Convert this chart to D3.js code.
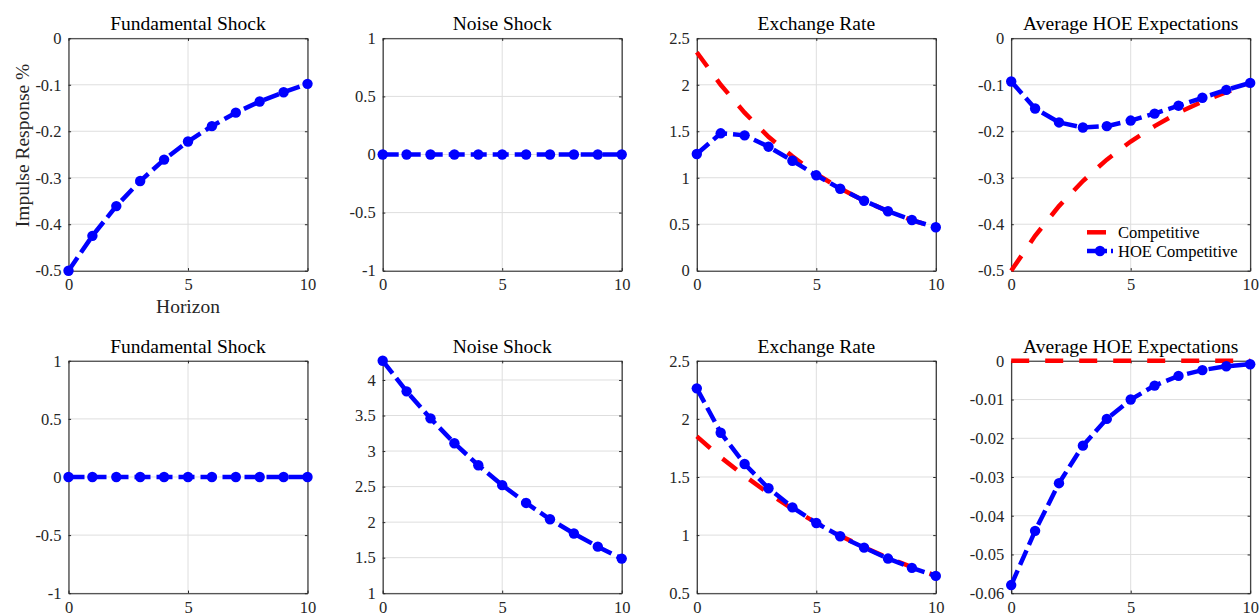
<!DOCTYPE html>
<html>
<head>
<meta charset="utf-8">
<script src="https://cdn.jsdelivr.net/npm/d3@7"></script>
<style>
  html, body { margin: 0; padding: 0; background: #fff; }
  svg { display: block; }
  text { font-family: "Liberation Serif", "Times New Roman", serif; }
</style>
</head>
<body>
<svg id="chart" width="1260" height="613"></svg>
<script>
// Horizon (quarters after the shock)
const horizon = [0, 1, 2, 3, 4, 5, 6, 7, 8, 9, 10];

// Top row: response to a fundamental shock
const fundFundHOE  = [-0.500, -0.425, -0.361, -0.307, -0.261, -0.222, -0.189, -0.160, -0.136, -0.116, -0.098];
const fundNoiseHOE = [0, 0, 0, 0, 0, 0, 0, 0, 0, 0, 0];
const fundFxComp   = [2.35, 2.00, 1.70, 1.44, 1.23, 1.04, 0.885, 0.753, 0.640, 0.544, 0.463];
const fundFxHOE    = [1.255, 1.478, 1.456, 1.334, 1.183, 1.026, 0.882, 0.753, 0.639, 0.545, 0.467];
const fundExpComp  = [-0.500, -0.425, -0.361, -0.307, -0.261, -0.222, -0.189, -0.160, -0.136, -0.116, -0.098];
const fundExpHOE   = [-0.093, -0.151, -0.181, -0.192, -0.189, -0.177, -0.162, -0.145, -0.128, -0.111, -0.096];

// Bottom row: response to a noise shock
const noiseFundHOE  = [0, 0, 0, 0, 0, 0, 0, 0, 0, 0, 0];
const noiseNoiseHOE = [4.27, 3.84, 3.46, 3.11, 2.80, 2.52, 2.27, 2.04, 1.84, 1.655, 1.487];
const noiseFxComp   = [1.85, 1.67, 1.51, 1.36, 1.225, 1.105, 0.995, 0.895, 0.805, 0.725, 0.65];
const noiseFxHOE    = [2.263, 1.881, 1.612, 1.403, 1.239, 1.104, 0.990, 0.892, 0.798, 0.718, 0.649];
const noiseExpComp  = [0, 0, 0, 0, 0, 0, 0, 0, 0, 0, 0];
const noiseExpHOE   = [-0.0579, -0.0439, -0.0316, -0.0219, -0.0150, -0.0100, -0.0064, -0.0039, -0.0024, -0.0014, -0.0009];

// Panel titles and axis ticks
const titles = ["Fundamental Shock", "Noise Shock", "Exchange Rate", "Average HOE Expectations"];
const xTicks = [0, 5, 10];
const yTicksTop = [
  [-0.5, -0.4, -0.3, -0.2, -0.1, 0],
  [-1, -0.5, 0, 0.5, 1],
  [0, 0.5, 1, 1.5, 2, 2.5],
  [-0.5, -0.4, -0.3, -0.2, -0.1, 0]
];
const yTicksBottom = [
  [-1, -0.5, 0, 0.5, 1],
  [1, 1.5, 2, 2.5, 3, 3.5, 4],
  [0.5, 1, 1.5, 2, 2.5],
  [-0.06, -0.05, -0.04, -0.03, -0.02, -0.01, 0]
];
const yDomainsTop = [[-0.5, 0], [-1, 1], [0, 2.5], [-0.5, 0]];
const yDomainsBottom = [[-1, 1], [1, 4.27], [0.5, 2.5], [-0.06, 0]];
const legendLabels = ["Competitive", "HOE Competitive"];

// Layout
const colLeft = [68.5, 382.7, 696.8, 1011.2];
const rowTop = [38.3, 360.8];
const panelW = 239, panelH = 232.4;
const axisColor = "#262626", gridColor = "#dedede";
const red = "#ff0000", blue = "#0000ff";
const tickLen = 2.6;

const fmt = v => d3.format("~g")(v).replace("\u2212", "-");

const panels = [
  { row: 0, col: 0, hoe: fundFundHOE,   comp: null },
  { row: 0, col: 1, hoe: fundNoiseHOE,  comp: null },
  { row: 0, col: 2, hoe: fundFxHOE,     comp: fundFxComp },
  { row: 0, col: 3, hoe: fundExpHOE,    comp: fundExpComp },
  { row: 1, col: 0, hoe: noiseFundHOE,  comp: null },
  { row: 1, col: 1, hoe: noiseNoiseHOE, comp: null },
  { row: 1, col: 2, hoe: noiseFxHOE,    comp: noiseFxComp },
  { row: 1, col: 3, hoe: noiseExpHOE,   comp: noiseExpComp }
];

const svg = d3.select("#chart");
svg.append("rect").attr("width", 1260).attr("height", 613).attr("fill", "#fff");

panels.forEach(p => {
  const yDomain = p.row === 0 ? yDomainsTop[p.col] : yDomainsBottom[p.col];
  const yTicks = p.row === 0 ? yTicksTop[p.col] : yTicksBottom[p.col];
  const g = svg.append("g")
    .attr("transform", `translate(${colLeft[p.col]},${rowTop[p.row]})`);

  const x = d3.scaleLinear().domain([0, 10]).range([0, panelW]);
  const y = d3.scaleLinear().domain(yDomain).range([panelH, 0]);

  // grid
  g.append("g").selectAll("line").data(xTicks).join("line")
    .attr("x1", d => x(d)).attr("x2", d => x(d))
    .attr("y1", 0).attr("y2", panelH)
    .attr("stroke", gridColor).attr("stroke-width", 1);
  g.append("g").selectAll("line").data(yTicks).join("line")
    .attr("x1", 0).attr("x2", panelW)
    .attr("y1", d => y(d)).attr("y2", d => y(d))
    .attr("stroke", gridColor).attr("stroke-width", 1);

  // axes: labelled left and bottom, inward ticks on all four sides
  const axL = d3.axisLeft(y).tickValues(yTicks).tickFormat(fmt).tickSizeInner(-tickLen).tickSizeOuter(0).tickPadding(7);
  const axB = d3.axisBottom(x).tickValues(xTicks).tickFormat(fmt).tickSizeInner(-tickLen).tickSizeOuter(0).tickPadding(8);
  const axR = d3.axisRight(y).tickValues(yTicks).tickFormat("").tickSizeInner(-tickLen).tickSizeOuter(0);
  const axT = d3.axisTop(x).tickValues(xTicks).tickFormat("").tickSizeInner(-tickLen).tickSizeOuter(0);

  const styleAxis = sel => {
    sel.select(".domain").attr("stroke", axisColor).attr("stroke-width", 1.1);
    sel.selectAll(".tick line").attr("stroke", axisColor).attr("stroke-width", 1);
    sel.selectAll(".tick text").attr("fill", axisColor)
      .style("font-family", "'Liberation Serif', serif").style("font-size", "16.5px");
  };
  g.append("g").call(axL).call(styleAxis);
  g.append("g").attr("transform", `translate(0,${panelH})`).call(axB).call(styleAxis);
  g.append("g").attr("transform", `translate(${panelW},0)`).call(axR).call(styleAxis);
  g.append("g").call(axT).call(styleAxis);
  g.selectAll(".tick text").filter(function () { return this.textContent === ""; }).remove();

  // title
  g.append("text")
    .attr("x", panelW / 2).attr("y", -8)
    .attr("text-anchor", "middle")
    .attr("fill", "#000").style("font-size", "19.5px")
    .text(titles[p.col]);

  const line = d3.line().x((d, i) => x(horizon[i])).y(d => y(d));

  if (p.comp) {
    g.append("path").datum(p.comp)
      .attr("d", line).attr("fill", "none")
      .attr("stroke", red).attr("stroke-width", 4.5)
      .attr("stroke-dasharray", "18,16");
  }
  g.append("path").datum(p.hoe)
    .attr("d", line).attr("fill", "none")
    .attr("stroke", blue).attr("stroke-width", 4.5)
    .attr("stroke-dasharray", "16,6");
  g.append("g").selectAll("circle").data(p.hoe).join("circle")
    .attr("cx", (d, i) => x(horizon[i])).attr("cy", d => y(d))
    .attr("r", 5.2).attr("fill", blue);

  // axis labels on the first panel
  if (p.row === 0 && p.col === 0) {
    g.append("text")
      .attr("x", panelW / 2).attr("y", panelH + 42)
      .attr("text-anchor", "middle").attr("fill", axisColor)
      .style("font-size", "19.5px")
      .text("Horizon");
    g.append("text")
      .attr("transform", `translate(-40,${panelH / 2 - 9}) rotate(-90)`)
      .attr("text-anchor", "middle").attr("fill", axisColor)
      .style("font-size", "19.5px")
      .text("Impulse Response %");
  }

  // legend inside the expectations panel of the top row
  if (p.row === 0 && p.col === 3) {
    const lg = svg.append("g");
    const lx0 = 1087, lx1 = 1106, lx2 = 1113, tx = 1118;
    const ly = [232.3, 251];
    lg.append("line").attr("x1", lx0).attr("x2", lx1).attr("y1", ly[0]).attr("y2", ly[0])
      .attr("stroke", red).attr("stroke-width", 4.5);
    lg.append("line").attr("x1", lx0).attr("x2", lx2).attr("y1", ly[1]).attr("y2", ly[1])
      .attr("stroke", blue).attr("stroke-width", 4.5).attr("stroke-dasharray", "20,4");
    lg.append("circle").attr("cx", (lx0 + lx2) / 2).attr("cy", ly[1]).attr("r", 5.2).attr("fill", blue);
    lg.selectAll("text").data(legendLabels).join("text")
      .attr("x", tx).attr("y", (d, i) => ly[i] + 5.5)
      .attr("fill", "#000").style("font-size", "16.5px")
      .text(d => d);
  }
});
</script>
</body>
</html>
